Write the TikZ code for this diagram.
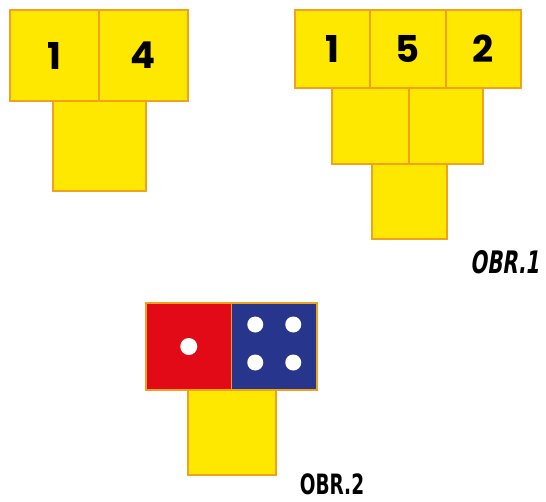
\documentclass[tikz,border=0pt]{standalone}
\usepackage{fontspec}
\usepackage{tikz}
\usetikzlibrary{positioning,calc}
\newfontfamily\digitfont{Poppins}
\newfontfamily\obrfont[FakeStretch=0.66]{DejaVu Sans}
\newfontfamily\obrslant[FakeStretch=0.64,FakeSlant=0.15]{DejaVu Sans}
\definecolor{CubeYellow}{HTML}{FFE800}
\definecolor{CubeEdge}{HTML}{F2A11E}
\definecolor{CubeRed}{HTML}{E30A17}
\definecolor{CubeBlue}{HTML}{28358C}

\begin{document}
\begin{tikzpicture}[
    x=1pt, y=-1pt,
    cell/.style={
      draw=CubeEdge,
      fill=#1,
      line width=1.8pt,
      inner sep=0pt,
      outer sep=0pt,
      font=\digitfont\bfseries\fontsize{37}{37}\selectfont
    },
    cell/.default=CubeYellow,
    pip/.style={
      circle,
      fill=white,
      minimum size=16pt,
      inner sep=0pt
    },
    obr/.style={
      font=\bfseries\fontsize{31}{31}\selectfont,
      inner sep=0pt
    }
  ]
  \useasboundingbox (0,0) rectangle (546,501);

  % Obr. 1, left pyramid
  \node[cell,minimum width=89pt,minimum height=91pt] (la) at (54.5,55.5) {1};
  \node[cell,minimum width=89pt,minimum height=91pt] (lb) at (143.5,55.5) {4};
  \node[cell,minimum width=93pt,minimum height=90pt] (lc) at (99.5,146) {};

  % Obr. 1, right pyramid
  \node[cell,minimum width=75pt,minimum height=78pt] (ra) at (332.5,49) {1};
  \node[cell,minimum width=76pt,minimum height=78pt] (rb) at (408,49) {5};
  \node[cell,minimum width=75pt,minimum height=78pt] (rc) at (483.5,49) {2};
  \node[cell,minimum width=77pt,minimum height=76pt] (rd) at (370.5,126) {};
  \node[cell,minimum width=74pt,minimum height=76pt] (re) at (446,126) {};
  \node[cell,minimum width=75pt,minimum height=75pt] (rf) at (409.5,201.5) {};
  \node[obr] (obr1) at (505,262) {\obrslant OBR.1};

  % Obr. 2, dice
  \node[cell=CubeRed,minimum width=85.5pt,minimum height=87pt] (red) at (188.75,346.5) {};
  \node[cell=CubeBlue,minimum width=85.5pt,minimum height=87pt] (blue) at (274.25,346.5) {};
  \node[cell,minimum width=88pt,minimum height=85pt] (bot) at (232,432.5) {};
  \node[pip,minimum size=17pt] (r1) at (red.center) {};
  \node[pip] (b1) at ([shift={(-19,-22)}]blue.center) {};
  \node[pip] (b2) at ([shift={(19,-22)}]blue.center) {};
  \node[pip] (b3) at ([shift={(-19,16)}]blue.center) {};
  \node[pip] (b4) at ([shift={(19,16)}]blue.center) {};
  \node[obr,font=\bfseries\fontsize{28}{28}\selectfont] (obr2) at (332,484) {\obrfont OBR.2};

\end{tikzpicture}
\end{document}
